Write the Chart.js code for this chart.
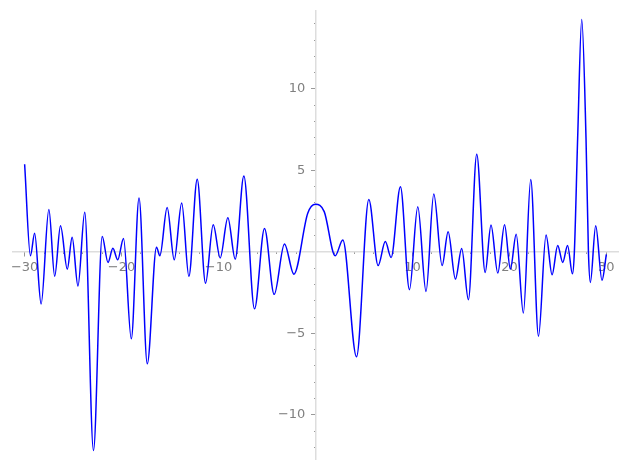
<!DOCTYPE html>
<html>
<head>
<meta charset="utf-8">
<script src="https://cdn.jsdelivr.net/npm/chart.js@4/dist/chart.umd.min.js"></script>
<style>
  body { margin: 0; background: #fff; }
  canvas { display: block; }
</style>
</head>
<body>
<canvas id="myChart" width="627" height="470"></canvas>
<script>
// values (extrema and a few shape points)
var xValues = [
  -30, -29.4, -28.97, -28.3, -27.5, -26.9, -26.3, -25.6, -25.1, -24.5,
  -23.8, -22.9, -22.0, -21.4, -20.9, -20.4, -19.8, -19.0, -18.2, -17.35,
  -16.4, -16.05, -15.3, -14.57, -13.8, -13.06, -12.2, -11.34, -10.55, -9.83,
  -9.04, -8.28, -7.39, -6.29, -5.26, -4.26, -3.2, -2.23, -0.8, 0.0,
  0.9, 2.03, 2.82, 4.23, 5.5, 6.46, 7.2, 7.8, 8.76, 9.69,
  10.55, 11.4, 12.2, 13.06, 13.68, 14.43, 15.08, 15.77, 16.63, 17.5,
  18.1, 18.8, 19.5, 20.1, 20.7, 21.44, 22.2, 23.0, 23.78, 24.4,
  24.98, 25.5, 26.0, 26.5, 26.7, 27.04, 27.46, 27.9, 28.15, 28.35,
  28.9, 29.55, 30
];
var yValues = [
  5.38, -0.24, 1.14, -3.2, 2.6, -1.5, 1.6, -1.06, 0.9, -2.1,
  2.43, -12.2, 0.94, -0.65, 0.22, -0.49, 0.82, -5.34, 3.3, -6.87,
  0.29, -0.24, 2.73, -0.49, 3.0, -1.5, 4.46, -1.92, 1.67, -0.37,
  2.1, -0.45, 4.65, -3.5, 1.43, -2.61, 0.49, -1.37, 2.37, 2.92,
  2.47, -0.24, 0.73, -6.44, 3.22, -0.84, 0.63, -0.35, 4.0, -2.32,
  2.77, -2.43, 3.55, -0.84, 1.24, -1.67, 0.2, -2.94, 6.0, -1.26,
  1.65, -1.3, 1.67, -1.06, 1.08, -3.75, 4.44, -5.18, 1.04, -1.41,
  0.39, -0.65, 0.39, -1.35, 0, 7, 14.27, 7, 0, -1.88,
  1.61, -1.75, -0.15
];
var xRange = [-31.2, 31.2];
var yRange = [-12.73, 14.8];

function tickText(v) {
  if (v == 0) return '';
  return v < 0 ? '\u2212' + Math.abs(v) : '' + v;
}

function noSize(scale) {
  if (scale.isHorizontal()) scale.height = 0;
  else scale.width = 0;
}

var points = [];
for (var i = 0; i < xValues.length; i++) {
  points.push({x: xValues[i], y: yValues[i]});
}

var tickFont = {family: 'DejaVu Sans', size: 13};
var axisColor = '#dddddd';
var tickColor = '#999999';

var config = {
  type: 'line',
  data: {
    datasets: [{
      data: points,
      borderColor: '#0000ff',
      borderWidth: 1.5,
      pointRadius: 0,
      fill: false,
      cubicInterpolationMode: 'monotone',
      xAxisID: 'x',
      yAxisID: 'y'
    }]
  },
  options: {
    responsive: false,
    animation: false,
    devicePixelRatio: 1,
    layout: {padding: {left: 13, right: 9, top: 10, bottom: 10}},
    plugins: {legend: {display: false}, tooltip: {enabled: false}},
    scales: {
      x: {
        type: 'linear', min: xRange[0], max: xRange[1],
        position: {y: 0},
        afterFit: noSize,
        border: {display: true, color: axisColor, width: 1.5},
        grid: {drawOnChartArea: false, drawTicks: true, tickLength: 4, tickColor: tickColor},
        ticks: {stepSize: 10, includeBounds: false, autoSkip: false, maxRotation: 0,
                padding: 4, color: '#808080', font: tickFont, callback: tickText}
      },
      x2: {
        type: 'linear', min: xRange[0], max: xRange[1],
        position: {y: 0},
        afterFit: noSize,
        border: {display: false},
        grid: {drawOnChartArea: false, drawTicks: true, tickLength: 2, tickColor: tickColor},
        ticks: {stepSize: 2, includeBounds: false, autoSkip: false, display: false}
      },
      y: {
        type: 'linear', min: yRange[0], max: yRange[1],
        position: {x: 0},
        afterFit: noSize,
        border: {display: true, color: axisColor, width: 1.5},
        grid: {drawOnChartArea: false, drawTicks: true, tickLength: 4, tickColor: tickColor},
        ticks: {stepSize: 5, includeBounds: false, autoSkip: false, display: false}
      },
      y2: {
        type: 'linear', min: yRange[0], max: yRange[1],
        position: {x: 0},
        afterFit: noSize,
        border: {display: false},
        grid: {drawOnChartArea: false, drawTicks: true, tickLength: 2, tickColor: tickColor},
        ticks: {stepSize: 1, includeBounds: false, autoSkip: false, display: false}
      },
      // y tick labels, set a little left of the axis line
      yLabels: {
        type: 'linear', min: yRange[0], max: yRange[1],
        position: {x: -1.05},
        afterFit: noSize,
        border: {display: false},
        grid: {display: false, drawTicks: false},
        ticks: {stepSize: 5, includeBounds: false, autoSkip: false,
                color: '#808080', font: tickFont, callback: tickText}
      }
    }
  }
};

var ctx = document.getElementById('myChart').getContext('2d');
window.myLine = new Chart(ctx, config);
</script>
</body>
</html>
